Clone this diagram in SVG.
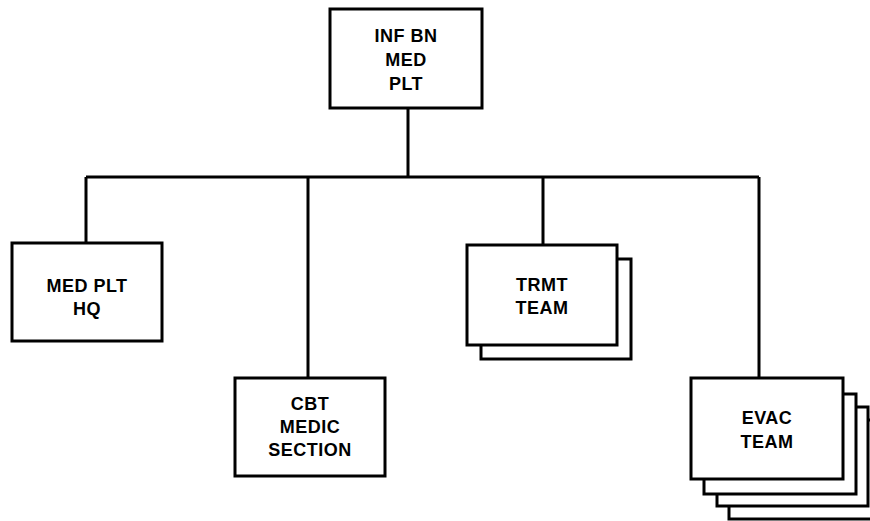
<svg xmlns="http://www.w3.org/2000/svg" width="870" height="521" viewBox="0 0 870 521">
<style>
.box{fill:#fff;stroke:#000;stroke-width:3}
.lbl{font-family:"Liberation Sans",Arial,sans-serif;font-weight:bold;font-size:18px;text-anchor:middle;fill:#000;letter-spacing:0.5px}
.conn{fill:none;stroke:#000;stroke-width:3}
</style>
<rect width="870" height="521" fill="#fff"/>
<g id="connectors">
<path class="conn" d="M408 108V177M86 177H759M86 177V243M308 177V378M543 177V245M759 177V378"/>
</g>
<g id="inf-bn-med-plt">
<rect class="box" x="330" y="9" width="152" height="99"/>
<text class="lbl" x="406" y="42">INF BN</text>
<text class="lbl" x="406" y="66">MED</text>
<text class="lbl" x="406" y="90">PLT</text>
</g>
<g id="med-plt-hq">
<rect class="box" x="12" y="243" width="150" height="98"/>
<text class="lbl" x="87" y="292">MED PLT</text>
<text class="lbl" x="87" y="315">HQ</text>
</g>
<g id="cbt-medic-section">
<rect class="box" x="235" y="378" width="150" height="98"/>
<text class="lbl" x="310" y="410">CBT</text>
<text class="lbl" x="310" y="433">MEDIC</text>
<text class="lbl" x="310" y="456">SECTION</text>
</g>
<g id="trmt-team">
<rect class="box" x="481" y="259" width="150" height="100"/>
<rect class="box" x="467" y="245" width="150" height="100"/>
<text class="lbl" x="542" y="291">TRMT</text>
<text class="lbl" x="542" y="314">TEAM</text>
</g>
<g id="evac-team">
<rect class="box" x="729" y="420" width="152" height="99"/>
<rect class="box" x="717" y="407" width="151" height="99"/>
<rect class="box" x="704" y="394" width="152" height="100"/>
<rect class="box" x="691" y="378" width="152" height="101"/>
<text class="lbl" x="767" y="424">EVAC</text>
<text class="lbl" x="767" y="448">TEAM</text>
</g>
</svg>
